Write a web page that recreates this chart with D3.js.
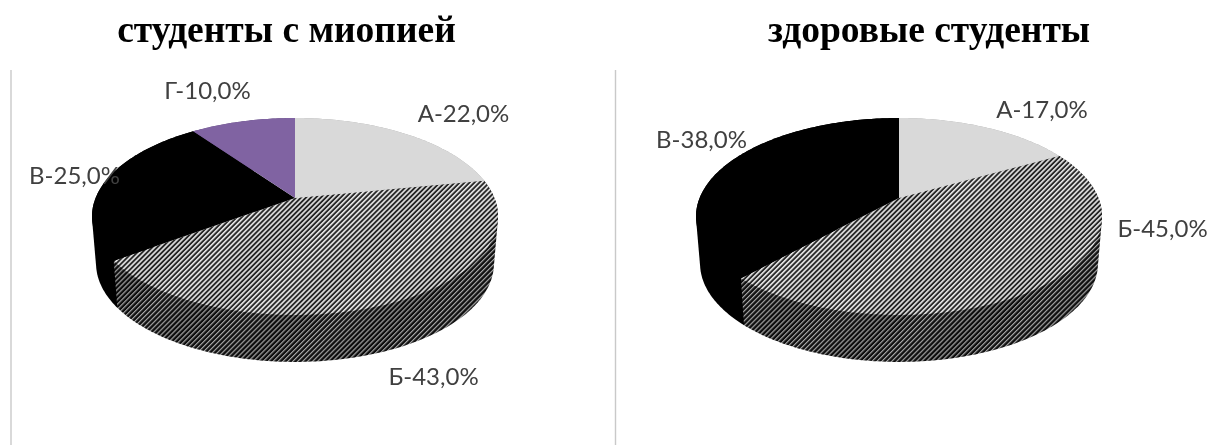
<!DOCTYPE html>
<html><head><meta charset="utf-8">
<script src="https://cdn.jsdelivr.net/npm/d3@7/dist/d3.min.js"></script>
<style>html,body{margin:0;background:#fff;overflow:hidden}svg{display:block}</style>
</head><body><div id="c"></div>
<script>
const categories = ["А","Б","В","Г"];
const myopiaValues = [22,43,25,10];
const healthyValues = [17,45,38,0];
const chartTitles = ["студенты с миопией","здоровые студенты"];
const sliceColours = ["#d9d9d9","url(#topStripes)","#000000","#8064a2"];
const sideColours = ["#a6a6a6","url(#sideStripes)","#000000","#5f4a7a"];

const W = 1209, H = 445;
const svg = d3.select("#c").append("svg").attr("width",W).attr("height",H);
const defs = svg.append("defs");
function stripes(id, bg, fg, period, w){
  const p = defs.append("pattern").attr("id",id).attr("patternUnits","userSpaceOnUse")
    .attr("width",period).attr("height",period).attr("patternTransform","rotate(45)");
  p.append("rect").attr("width",period).attr("height",period).attr("fill",bg);
  p.append("rect").attr("width",w).attr("height",period).attr("fill",fg);
}
stripes("topStripes","#262626","#e8e8e8",3.5,1.6);
stripes("sideStripes","#0c0c0c","#a8a8a8",3.5,1.2);
defs.append("filter").attr("id","soft").attr("x","-5%").attr("y","-5%").attr("width","110%").attr("height","110%")
  .append("feGaussianBlur").attr("stdDeviation",0.45);
defs.append("filter").attr("id","softText").attr("x","-5%").attr("y","-20%").attr("width","110%").attr("height","140%")
  .append("feGaussianBlur").attr("stdDeviation",0.4);

const panels = [
  {values:myopiaValues, title:chartTitles[0], cx:295, titleX:286.5, axisX:11,
   labelAt:[[463.5,122],[433.5,385],[74.5,184],[207.5,99]]},
  {values:healthyValues, title:chartTitles[1], cx:899, titleX:929, axisX:615.5,
   labelAt:[[1042,118],[1162.5,237],[701.5,148],[0,0]]}
];

// Perspective projection of the tilted disc
const a = 199.4, b = 95, p = 0.1875, depth = 47, lowerScale = 0.98;
const apexY = 198;
function rim(cx, t, lower){
  const u = Math.sin(t), v = Math.cos(t), d = 1 + p*v;
  const s = lower ? lowerScale : 1;
  return [cx + s*a*u/d, apexY + (lower?depth:0) - b*v/d];
}
const line = d3.line();
const pie = d3.pie().sort(null).startAngle(0).endAngle(2*Math.PI);
function samples(t0,t1){
  const n = Math.max(2, Math.ceil(Math.abs(t1-t0)*60));
  return d3.range(n+1).map(i => t0+(t1-t0)*i/n);
}

panels.forEach(pn => {
  const g = svg.append("g");
  g.append("line").attr("x1",pn.axisX).attr("x2",pn.axisX).attr("y1",70).attr("y2",H)
    .attr("stroke","#c9c9c9").attr("stroke-width",1.4);
  const arcs = pie(pn.values).map((d,i)=>({...d,i})).filter(d=>d.value>0);
  const marks = g.append("g").attr("filter","url(#soft)");
  // sides: convex hull of the upper and lower rim of each slice
  arcs.slice().sort((x,y)=> (x.i===1) - (y.i===1)).forEach(d => {
    const ts = samples(d.startAngle,d.endAngle);
    const hull = d3.polygonHull(ts.map(t=>rim(pn.cx,t,false)).concat(ts.map(t=>rim(pn.cx,t,true))));
    marks.append("path").attr("d",line(hull)+"Z").attr("fill",sideColours[d.i]);
  });
  // top faces
  arcs.forEach(d => {
    const pts = [[pn.cx,apexY]].concat(samples(d.startAngle,d.endAngle).map(t=>rim(pn.cx,t,false)));
    marks.append("path").attr("d",line(pts)+"Z").attr("fill",sliceColours[d.i]);
  });
  // labels
  const fmt = d3.format(".1f");
  arcs.forEach(d => {
    g.append("text").attr("x",pn.labelAt[d.i][0]).attr("y",pn.labelAt[d.i][1])
      .attr("text-anchor","middle").attr("font-family","Lato, Carlito, sans-serif")
      .attr("font-size",24).attr("fill","#404040").attr("filter","url(#softText)")
      .text(`${categories[d.i]}-${fmt(d.value).replace(".",",")}%`);
  });
  g.append("text").attr("x",pn.titleX).attr("y",42).attr("text-anchor","middle")
    .attr("font-family","'Liberation Serif', serif").attr("font-weight","bold")
    .attr("font-size",37.5).attr("fill","#000").attr("filter","url(#softText)").text(pn.title);
});
</script></body></html>
